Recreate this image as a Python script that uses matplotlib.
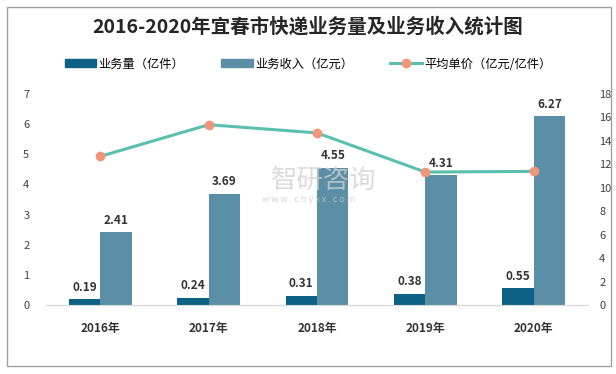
import numpy as np
import matplotlib.pyplot as plt
from matplotlib.patches import Rectangle
from matplotlib.lines import Line2D
from matplotlib.patches import Patch

plt.rcParams['font.family'] = ['Noto Sans CJK SC', 'DejaVu Sans']

years = ["2016年", "2017年", "2018年", "2019年", "2020年"]
volume = [0.19, 0.24, 0.31, 0.38, 0.55]        # 亿件
income = [2.41, 3.69, 4.55, 4.31, 6.27]        # 亿元
unit_price = [12.68, 15.38, 14.68, 11.34, 11.40]  # 亿元/亿件

c_vol = "#0D6184"
c_inc = "#5B8FA7"
c_line = "#5BBFB0"
c_mark = "#F0967A"

fig = plt.figure(figsize=(6.16, 3.74), dpi=100)
fig.patches.append(Rectangle((7 / 616, 1 - 366 / 374), 604 / 616, 359 / 374,
                             transform=fig.transFigure, fill=False,
                             edgecolor="#A0A0A0", lw=1.0))

ax = fig.add_axes([46 / 616, 1 - 305 / 374, 542 / 616, 211 / 374])
ax2 = ax.twinx()

x = np.arange(len(years))
w = 0.29
ax.bar(x - w / 2, volume, w, color=c_vol, zorder=3)
ax.bar(x + w / 2, income, w, color=c_inc, zorder=3)
for xi, v in zip(x, volume):
    ax.text(xi - w / 2, v + 0.18, f"{v:.2f}", ha="center", va="bottom",
            fontsize=8.5, fontweight="bold", color="#333333")
for xi, v in zip(x, income):
    ax.text(xi + w / 2, v + 0.18, f"{v:.2f}", ha="center", va="bottom",
            fontsize=8.5, fontweight="bold", color="#333333")

ax2.plot(x, unit_price, color=c_line, lw=2.2, marker="o", ms=6,
         mfc=c_mark, mec=c_mark, zorder=4)

ax.set_xlim(-0.5, 4.5)
ax.set_ylim(0, 7)
ax2.set_ylim(0, 18)
ax.set_yticks(range(0, 8))
ax2.set_yticks(range(0, 19, 2))
ax.set_xticks(x)
ax.set_xticklabels(years, fontsize=8.5, fontweight="bold", color="#333333")
ax.tick_params(axis="x", length=0, pad=12)
ax.tick_params(axis="y", length=0, labelsize=8, labelcolor="#404040", pad=12)
ax2.tick_params(axis="y", length=0, labelsize=8, labelcolor="#404040", pad=8)
for a in (ax, ax2):
    for s in ("top", "right", "left"):
        a.spines[s].set_visible(False)
    a.spines["bottom"].set_color("#D9D9D9")

# watermark
fig.text(324 / 616, 1 - 180 / 374, "智研咨询", ha="center", va="center",
         fontsize=19, color="#D0D0D0", alpha=0.75)
fig.text(309 / 616, 1 - 199 / 374, "w w w . c h y x x . c o m", ha="center",
         va="center", fontsize=6.5, color="#C8C8C8", alpha=0.75)

fig.text(0.5, 1 - 27 / 374, "2016-2020年宜春市快递业务量及业务收入统计图",
         ha="center", va="center", fontsize=14, fontweight="bold", color="#262626")

handles = [Patch(color=c_vol), Patch(color=c_inc),
           Line2D([0], [0], color=c_line, lw=2.2, marker="o", ms=6,
                  mfc=c_mark, mec=c_mark)]
labels = ["业务量（亿件）", "业务收入（亿元）", "平均单价（亿元/亿件）"]
fig.legend(handles, labels, loc="center", bbox_to_anchor=(0.5, 1 - 64 / 374),
           ncol=3, frameon=False, fontsize=8.8, handlelength=2.6,
           handleheight=0.6, columnspacing=3.0, handletextpad=0.2)

fig.savefig("out.png", dpi=100)
